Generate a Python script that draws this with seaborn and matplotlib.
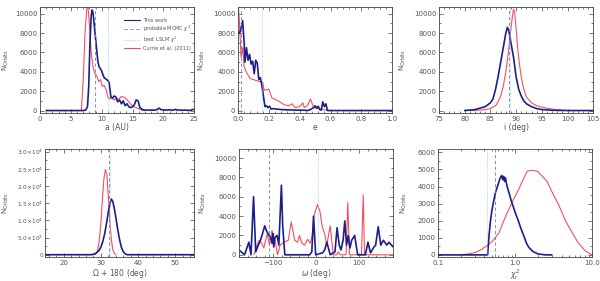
import matplotlib
matplotlib.use('Agg')
import numpy as np
import pandas as pd
import matplotlib.pyplot as plt
import seaborn as sns
from matplotlib.ticker import AutoMinorLocator, FixedLocator, FuncFormatter, LogLocator, NullFormatter
from matplotlib.lines import Line2D

# ---- data ----
a_blue_x = [1.0, 7.0, 7.4, 7.7, 7.9, 8.1, 8.3, 8.45, 8.6, 8.8,
            9.0, 9.2, 9.4, 9.6, 9.8, 10.0, 10.2, 10.4, 10.6, 10.8,
            11.0, 11.2, 11.5, 11.8, 12.0, 12.3, 12.6, 12.9, 13.2, 13.5,
            13.8, 14.1, 14.4, 14.7, 15.0, 15.3, 15.6, 15.9, 16.2, 16.6,
            17.0, 17.5, 18.0, 18.5, 19.0, 19.3, 19.6, 20.0, 20.5, 21.0,
            21.5, 22.0, 22.3, 22.6, 23.0, 23.5, 24.0, 24.5, 25.0]
a_blue_y = [0, 0, 50, 400, 2500, 7000, 9800, 10400, 10100, 8800,
            7500, 6200, 5000, 4500, 4300, 4100, 3700, 3400, 3300, 3200,
            3100, 2900, 1400, 1300, 1500, 1400, 900, 1100, 700, 1000,
            500, 700, 400, 300, 400, 600, 1100, 1000, 300, 100,
            50, 40, 60, 30, 100, 250, 100, 60, 50, 80,
            30, 120, 40, 60, 30, 50, 20, 40, 150]
a_red_x = [6.7, 7.0, 7.3, 7.6, 7.8, 8.0, 8.3, 8.6, 8.9, 9.2,
           9.5, 9.8, 10.1, 10.4, 10.7, 11.0, 11.3, 11.6, 12.0, 12.4,
           12.8, 13.2, 13.6, 14.0, 14.4, 14.8, 15.2, 15.6, 16.0, 16.5,
           17.0]
a_red_y = [0, 3000, 8000, 10700, 10600, 9000, 6000, 4500, 3800, 3600,
           3000, 3200, 2500, 2600, 2200, 1400, 1200, 1300, 1100, 1200,
           1200, 1450, 1400, 1200, 900, 600, 400, 300, 200, 50,
           0]
a_mcmc, a_lslm = 8.85, 11.05

e_blue_x = [0.0, 0.01, 0.02, 0.03, 0.04, 0.045, 0.055, 0.065, 0.075, 0.085,
            0.095, 0.105, 0.115, 0.125, 0.135, 0.145, 0.155, 0.165, 0.175, 0.185,
            0.195, 0.205, 0.215, 0.23, 0.25, 0.28, 0.31, 0.34, 0.37, 0.40,
            0.43, 0.45, 0.47, 0.49, 0.50, 0.51, 0.52, 0.53, 0.54, 0.55,
            0.56, 0.57, 0.58, 0.6, 0.8, 1.0]
e_blue_y = [8000, 8000, 8500, 9300, 7000, 5000, 6500, 5200, 5800, 4800,
            5100, 3800, 5200, 4900, 3200, 3400, 2600, 1500, 400, 500,
            300, 450, 150, 200, 150, 100, 80, 60, 50, 40,
            30, 0, 100, 300, 500, 250, 450, 100, 50, 900,
            400, 700, 0, 0, 0, 0]
e_red_x = [0.0, 0.01, 0.02, 0.03, 0.04, 0.06, 0.08, 0.1, 0.12, 0.14,
           0.16, 0.17, 0.2, 0.22, 0.25, 0.28, 0.3, 0.33, 0.35, 0.37,
           0.4, 0.42, 0.43, 0.45, 0.47, 0.49, 0.52, 0.55, 0.6]
e_red_y = [11500, 9000, 5500, 6500, 4500, 3800, 3300, 3200, 3100, 3000,
           2900, 2100, 2200, 1300, 1100, 800, 600, 500, 700, 300,
           400, 800, 300, 500, 1200, 300, 200, 100, 0]
e_mcmc, e_lslm = 0.02, 0.157

i_blue_x = [80, 82, 83, 84, 85, 85.5, 86, 86.5, 87, 87.5,
            88, 88.3, 88.6, 89, 89.5, 90, 90.5, 91, 91.5, 92,
            93, 94, 95, 97, 100, 105]
i_blue_y = [0, 100, 250, 400, 800, 1200, 2200, 3500, 5000, 6500,
            8000, 8600, 8200, 7000, 5500, 3500, 2200, 1500, 1000, 700,
            400, 200, 100, 30, 0, 0]
i_red_x = [81, 83, 84, 85, 86, 86.5, 87, 87.5, 88, 88.5,
           89, 89.3, 89.5, 89.7, 90, 90.3, 90.6, 91, 91.5, 92,
           93, 94, 95, 96, 97, 98, 100]
i_red_y = [0, 50, 100, 200, 500, 900, 1500, 2500, 4000, 6000,
           8500, 9800, 10500, 10200, 8500, 6500, 5000, 3500, 2200, 1400,
           800, 500, 350, 250, 150, 80, 0]
i_mcmc, i_lslm = 88.7, 88.85

O_blue_x = [15, 27.5, 28.5, 29.5, 30.0, 30.5, 31.0, 31.5, 32.0, 32.5,
            32.8, 33.2, 33.6, 34.0, 34.5, 35.0, 35.5, 36.0, 36.5, 37.0,
            55]
O_blue_y = [0, 0, 300, 1200, 2200, 3800, 6000, 9000, 12500, 15200,
            16200, 15500, 13500, 11000, 7500, 4500, 2200, 900, 300, 0,
            0]
O_red_x = [28.5, 29.0, 29.5, 30.0, 30.4, 30.8, 31.2, 31.6, 32.0, 32.4,
           32.8, 33.2, 33.6, 34.0]
O_red_y = [0, 800, 3500, 9000, 16000, 22000, 24800, 23500, 17000, 10000,
           4500, 1500, 400, 0]
O_mcmc, O_lslm = 32.1, 32.5

w_blue_x = [-180, -167, -157, -152, -146, -141, -135, -130, -125, -120,
            -116, -110, -106, -103, -101, -99, -96, -91, -87, -81,
            -78, -73, -15, -10, -6, -1, 15, 20, 25, 33,
            44, 49, 54, 58, 63, 67, 71, 75, 79, 83,
            90, 97, 115, 121, 127, 135, 139, 145, 151, 157,
            165, 170, 180]
w_blue_y = [500, 0, 1300, 0, 6000, 300, 1000, 1500, 2200, 3000,
            2500, 2000, 1800, 1200, 2200, 800, 1800, 2000, 1000, 7200,
            3000, 0, 0, 300, 4000, 0, 200, 500, 1300, 0,
            300, 2800, 1000, 500, 1500, 3500, 1000, 2000, 700, 1500,
            2000, 0, 0, 1300, 200, 800, 1000, 2900, 1000, 1500,
            1000, 1300, 800]
w_red_x = [-145, -138, -133, -127, -122, -114, -109, -103, -96, -90,
           -84, -75, -65, -58, -50, -43, -39, -33, -27, -20,
           -14, -9, -5, 3, 9, 14, 21, 25, 33, 40,
           48, 52, 56, 70, 74, 78, 106, 110, 113, 180]
w_red_y = [0, 1000, 1500, 1200, 700, 2200, 1000, 2500, 1500, 0,
           1000, 1300, 1500, 3400, 1500, 1300, 2000, 1200, 1000, 1600,
           1200, 2000, 4000, 5200, 4500, 3000, 2000, 1000, 3000, 0,
           0, 300, 0, 0, 5400, 0, 0, 6200, 0, 0]
w_mcmc, w_lslm = -109, 4

chi_blue_x = [0.1, 0.44, 0.46, 0.48, 0.5, 0.53, 0.56, 0.6, 0.64, 0.67,
              0.69, 0.71, 0.73, 0.75, 0.77, 0.8, 0.85, 0.9, 0.95, 1.0,
              1.1, 1.2, 1.3, 1.4, 1.5, 1.7, 2.0, 2.5, 3.0]
chi_blue_y = [0, 0, 1200, 2000, 2600, 3200, 3700, 4100, 4500, 4650,
              4400, 4600, 4300, 4500, 4200, 3900, 3500, 3100, 2800, 2500,
              2000, 1500, 1100, 700, 450, 200, 50, 0, 0]
chi_red_x = [0.19, 0.25, 0.31, 0.36, 0.42, 0.51, 0.62, 0.76, 0.92, 1.13,
             1.3, 1.44, 1.67, 1.94, 2.15, 2.6, 3.0, 3.7, 4.5, 5.5,
             6.6, 8.1, 9.5, 10.0]
chi_red_y = [0, 60, 150, 300, 500, 800, 1300, 2300, 3100, 3900,
             4500, 4900, 4950, 4900, 4700, 4300, 3700, 2900, 2000, 1300,
             700, 250, 50, 0]
chi_mcmc, chi_lslm = 0.55, 0.43

BLUE = '#1c1f8a'
RED = '#f0505e'
DASH = '#6f7fc8'
DOT = '#8cc8e8'
GREY = '#555555'

sns.set_style('ticks')
plt.rcParams['font.family'] = ['DejaVu Sans']
plt.rcParams['axes.linewidth'] = 0.6
plt.rcParams['axes.edgecolor'] = '#444444'
plt.rcParams['mathtext.fontset'] = 'dejavusans'


def draw(ax, bx, by, rx, ry, mcmc, lslm):
    sns.lineplot(x=rx, y=ry, ax=ax, color=RED, lw=0.8, estimator=None, sort=False)
    sns.lineplot(x=bx, y=by, ax=ax, color=BLUE, lw=1.2, estimator=None, sort=False)
    ax.axvline(mcmc, color=DASH, lw=0.6, ls=(0, (4, 3)))
    ax.axvline(lslm, color=DOT, lw=0.6, ls=(0, (1, 1.5)))


def style(ax, xlabel, xlim, ylim, xticks=None, fmt=None, log=False, ylab_x=-0.2):
    ax.set_xlim(*xlim)
    ax.set_ylim(*ylim)
    if log:
        ax.set_xscale('log')
        ax.xaxis.set_major_locator(FixedLocator([0.1, 1.0, 10.0]))
        ax.xaxis.set_major_formatter(FuncFormatter(lambda v, p: f'{v:.1f}'))
        ax.xaxis.set_minor_locator(LogLocator(subs=np.arange(2, 10)))
        ax.xaxis.set_minor_formatter(NullFormatter())
    else:
        if xticks is not None:
            ax.set_xticks(xticks)
        if fmt is not None:
            ax.xaxis.set_major_formatter(FuncFormatter(lambda v, p: fmt.format(v)))
        ax.xaxis.set_minor_locator(AutoMinorLocator(5))
    ax.yaxis.set_minor_locator(AutoMinorLocator(2))
    ax.tick_params(which='both', direction='in', top=True, right=True,
                   labelsize=5, colors='#444444', labelcolor=GREY, width=0.5, pad=2)
    ax.tick_params(which='major', length=3)
    ax.tick_params(which='minor', length=1.5)
    ax.set_xlabel(xlabel, fontsize=5.5, color=GREY, labelpad=1)
    ax.set_ylabel(r'N$_{\rm Orbits}$', fontsize=5, color=GREY)
    ax.yaxis.set_label_coords(ylab_x, 0.5)


def sci_fmt(v, p):
    if v == 0:
        return '0'
    exp = int(np.floor(np.log10(v)))
    return r'%.1f$\times$10$^{%d}$' % (v / 10 ** exp, exp)


fig = plt.figure(figsize=(6.0, 2.81), dpi=100)
W = 0.257
ax1 = fig.add_axes([40 / 600, 0.598, W, 0.377])
ax2 = fig.add_axes([238 / 600, 0.598, W, 0.377])
ax3 = fig.add_axes([439 / 600, 0.598, W, 0.377])
ax4 = fig.add_axes([45 / 600, 0.085, 149 / 600, 0.385])
ax5 = fig.add_axes([239 / 600, 0.085, W, 0.385])
ax6 = fig.add_axes([438 / 600, 0.085, W, 0.385])

yt = [0, 2000, 4000, 6000, 8000, 10000]

draw(ax1, a_blue_x, a_blue_y, a_red_x, a_red_y, a_mcmc, a_lslm)
style(ax1, 'a (AU)', (0, 25), (-250, 10700), [0, 5, 10, 15, 20, 25], ylab_x=-0.19)
ax1.set_yticks(yt)

draw(ax2, e_blue_x, e_blue_y, e_red_x, e_red_y, e_mcmc, e_lslm)
style(ax2, 'e', (0, 1), (-250, 10700), [0, 0.2, 0.4, 0.6, 0.8, 1.0], fmt='{:.1f}', ylab_x=-0.2)
ax2.set_yticks(yt)

draw(ax3, i_blue_x, i_blue_y, i_red_x, i_red_y, i_mcmc, i_lslm)
style(ax3, 'i (deg)', (75, 105), (-250, 10700), [75, 80, 85, 90, 95, 100, 105], ylab_x=-0.2)
ax3.set_yticks(yt)

draw(ax4, O_blue_x, O_blue_y, O_red_x, O_red_y, O_mcmc, O_lslm)
style(ax4, r'$\Omega$ + 180 (deg)', (15, 55), (-700, 30800), [20, 30, 40, 50], ylab_x=-0.225)
ax4.set_yticks([0, 5000, 10000, 15000, 20000, 25000, 30000])
ax4.yaxis.set_major_formatter(FuncFormatter(sci_fmt))
ax4.tick_params(axis='y', labelsize=4.2, pad=1.5)

draw(ax5, w_blue_x, w_blue_y, w_red_x, w_red_y, w_mcmc, w_lslm)
style(ax5, r'$\omega$ (deg)', (-180, 180), (-240, 10950), [-100, 0, 100], ylab_x=-0.2)
ax5.set_yticks(yt)

draw(ax6, chi_blue_x, chi_blue_y, chi_red_x, chi_red_y, chi_mcmc, chi_lslm)
style(ax6, r'$\chi^2_r$', (0.1, 10), (-130, 6200), log=True, ylab_x=-0.19)
ax6.set_yticks([0, 1000, 2000, 3000, 4000, 5000, 6000])

for ax in (ax1, ax2, ax3, ax5, ax6):
    ax.yaxis.set_major_formatter(FuncFormatter(lambda v, p: f'{int(v)}'))

handles = [
    Line2D([], [], color=BLUE, lw=0.8),
    Line2D([], [], color=DASH, lw=0.6, ls=(0, (4, 3))),
    Line2D([], [], color=DOT, lw=0.6, ls=(0, (1, 1.5))),
    Line2D([], [], color=RED, lw=0.8),
]
labels = ['This work', r'probable MCMC $\chi^2$', r'best LSLM $\chi^2$', 'Currie et al. (2011)']
leg = ax1.legend(handles, labels, loc='upper right', bbox_to_anchor=(1.0, 0.93),
                 fontsize=3.6, frameon=False, handlelength=3.2, handletextpad=0.6,
                 labelspacing=0.15, borderaxespad=0.3)
for t in leg.get_texts():
    t.set_color(GREY)

fig.savefig('out.png', dpi=100)
plt.close(fig)
